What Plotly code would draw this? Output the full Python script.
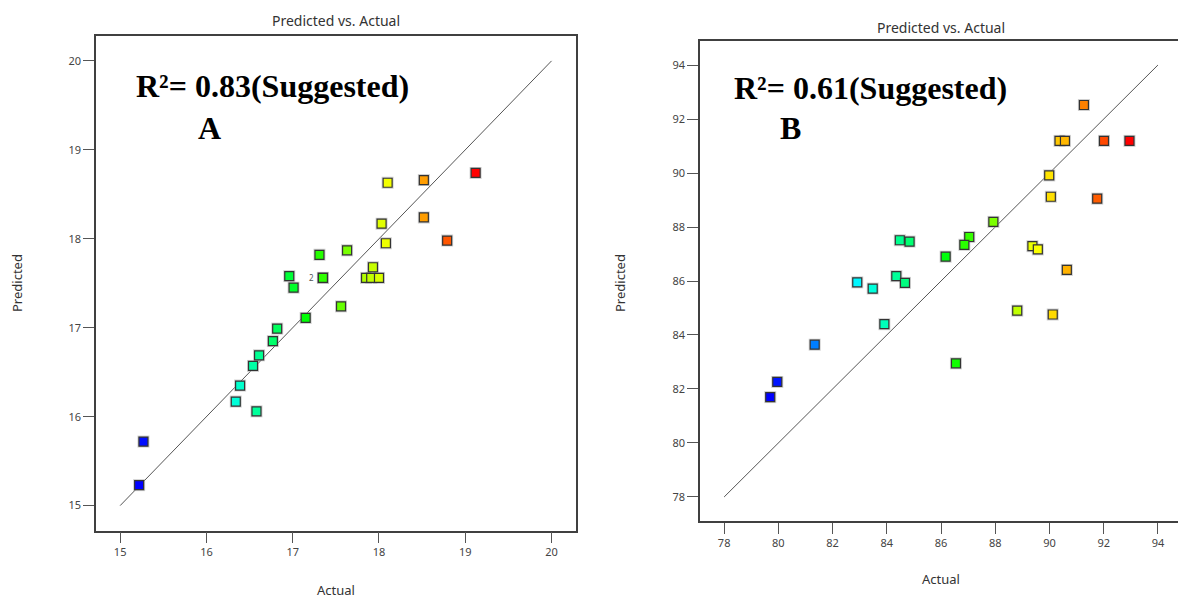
import plotly.graph_objects as go

# Panel A: actual vs. predicted response
a_actual = [15.22, 15.27, 16.34, 16.39, 16.58, 16.54, 16.61, 16.77, 16.82, 16.96,
            17.01, 17.15, 17.31, 17.35, 17.35, 17.56, 17.63, 17.85, 17.91, 17.93,
            18.00, 18.03, 18.08, 18.10, 18.52, 18.52, 18.79, 19.12]
a_pred = [15.23, 15.72, 16.17, 16.35, 16.06, 16.57, 16.69, 16.85, 16.99, 17.58,
          17.45, 17.11, 17.82, 17.56, 17.56, 17.24, 17.87, 17.56, 17.56, 17.68,
          17.56, 18.17, 17.95, 18.63, 18.66, 18.24, 17.98, 18.74]

# Panel B: actual vs. predicted response
b_actual = [91.27, 90.37, 90.57, 92.01, 92.95, 89.99, 90.05, 91.76, 87.93, 87.04,
            86.86, 86.17, 84.48, 84.84, 89.37, 89.57, 90.64, 84.35, 84.67, 82.91,
            83.48, 88.81, 90.12, 83.91, 81.34, 79.96, 79.70, 86.55]
b_pred = [92.52, 91.19, 91.19, 91.19, 91.19, 89.91, 89.12, 89.05, 88.19, 87.63,
          87.34, 86.90, 87.51, 87.46, 87.29, 87.17, 86.41, 86.18, 85.93, 85.95,
          85.72, 84.90, 84.76, 84.40, 83.64, 82.26, 81.70, 82.95]

a_line = [15, 20]
b_line = [78, 94]
a_ticks = [15, 16, 17, 18, 19, 20]
b_ticks = [78, 80, 82, 84, 86, 88, 90, 92, 94]

W, H = 1178, 599
rainbow = [[0.0, "rgb(0,0,255)"], [0.25, "rgb(0,255,255)"], [0.5, "rgb(0,255,0)"],
           [0.75, "rgb(255,255,0)"], [1.0, "rgb(255,0,0)"]]

TICK_FONT = dict(family="Noto Sans", size=11, color="#444")
LABEL_FONT = dict(family="Noto Sans", size=13, color="#333")
BIG_FONT = dict(family="Liberation Serif", size=32, color="#000")


def px_x(p):
    return p / W


def px_y(p):
    return 1 - p / H


fig = go.Figure()


def add_panel(xs, ys, line, xa, ya):
    fig.add_trace(go.Scatter(x=line, y=line, mode="lines", xaxis=xa, yaxis=ya,
                             line=dict(color="#555", width=1), hoverinfo="skip",
                             showlegend=False))
    # soft grey halo behind each square
    fig.add_trace(go.Scatter(x=xs, y=ys, mode="markers", xaxis=xa, yaxis=ya,
                             marker=dict(symbol="square", size=12,
                                         color="rgba(170,170,170,0.55)",
                                         line=dict(width=0)),
                             hoverinfo="skip", showlegend=False))
    fig.add_trace(go.Scatter(x=xs, y=ys, mode="markers", xaxis=xa, yaxis=ya,
                             marker=dict(symbol="square", size=9, color=xs,
                                         colorscale=rainbow, cmin=min(xs), cmax=max(xs),
                                         line=dict(color="#333", width=1.2)),
                             showlegend=False))


add_panel(a_actual, a_pred, a_line, "x", "y")
add_panel(b_actual, b_pred, b_line, "x2", "y2")

axis_common = dict(showgrid=False, zeroline=False, showline=True, linecolor="#404040",
                   linewidth=1.5, ticks="outside", ticklen=11, tickwidth=1.2,
                   tickcolor="#555", tickfont=TICK_FONT)

fig.update_layout(
    width=W, height=H, margin=dict(l=0, r=0, t=0, b=0),
    paper_bgcolor="white", plot_bgcolor="white",
    xaxis=dict(domain=[px_x(96), px_x(575.7)], range=[14.72, 20.28], tickvals=a_ticks,
               anchor="y", mirror=True, **axis_common),
    yaxis=dict(domain=[px_y(530.5), px_y(36)], range=[14.72, 20.28], tickvals=a_ticks,
               anchor="x", mirror=True, **axis_common),
    xaxis2=dict(domain=[px_x(700), 1.0], range=[77.11, 94.74], tickvals=b_ticks,
                anchor="y2", mirror=True, **axis_common),
    yaxis2=dict(domain=[px_y(521), px_y(41)], range=[77.11, 94.89], tickvals=b_ticks,
                anchor="x2", mirror=False, **axis_common),
)

annotations = [
    dict(text="Predicted vs. Actual", x=px_x(336), y=px_y(21), font=dict(family="Noto Sans", size=14, color="#333")),
    dict(text="Predicted vs. Actual", x=px_x(941), y=px_y(27), font=dict(family="Noto Sans", size=14, color="#333")),
    dict(text="Actual", x=px_x(336), y=px_y(590), font=LABEL_FONT),
    dict(text="Actual", x=px_x(941), y=px_y(579), font=LABEL_FONT),
    dict(text="Predicted", x=px_x(17), y=px_y(283), font=LABEL_FONT, textangle=-90),
    dict(text="Predicted", x=px_x(620), y=px_y(283), font=LABEL_FONT, textangle=-90),
    dict(text="<b>R²= 0.83(Suggested)</b>", x=px_x(134), y=px_y(86),
         xanchor="left", font=BIG_FONT),
    dict(text="<b>A</b>", x=px_x(209), y=px_y(128), font=BIG_FONT),
    dict(text="<b>R²= 0.61(Suggested)</b>", x=px_x(732), y=px_y(88),
         xanchor="left", font=BIG_FONT),
    dict(text="<b>B</b>", x=px_x(790), y=px_y(128), font=BIG_FONT),
]
for ann in annotations:
    ann.setdefault("xanchor", "center")
    fig.add_annotation(xref="paper", yref="paper", yanchor="middle", showarrow=False, **ann)

# replicate count beside the doubled point in panel A
fig.add_annotation(x=a_actual[13], y=a_pred[13], xref="x", yref="y", text="2",
                   showarrow=False, xshift=-11, font=dict(family="Noto Sans", size=8, color="#555"))

fig.write_html("out.html")
